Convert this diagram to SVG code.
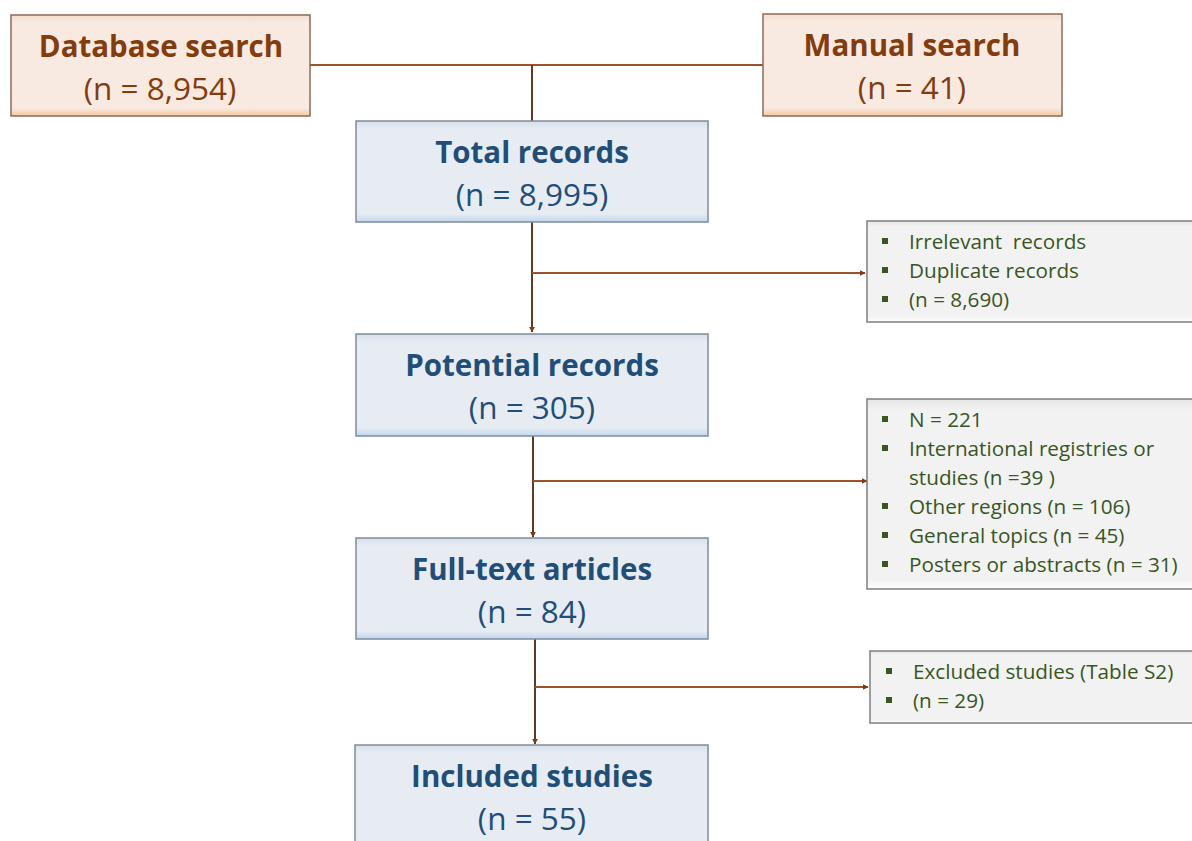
<svg xmlns="http://www.w3.org/2000/svg" width="1192" height="841" viewBox="0 0 1192 841">
<defs>
<linearGradient id="gTan" x1="0" y1="0" x2="0" y2="1">
<stop offset="0" stop-color="#F3DCCD"/>
<stop offset="0.08" stop-color="#F8EAE1"/>
<stop offset="0.92" stop-color="#F8EAE1"/>
<stop offset="1" stop-color="#F4C9A0"/>
</linearGradient>
<linearGradient id="gBlue" x1="0" y1="0" x2="0" y2="1">
<stop offset="0" stop-color="#D7DFEA"/>
<stop offset="0.08" stop-color="#E7ECF3"/>
<stop offset="0.92" stop-color="#E7ECF3"/>
<stop offset="1" stop-color="#BFD6EE"/>
</linearGradient>
<linearGradient id="gGray" x1="0" y1="0" x2="0" y2="1">
<stop offset="0" stop-color="#E6E6E6"/>
<stop offset="0.06" stop-color="#F2F2F2"/>
<stop offset="0.95" stop-color="#F2F2F2"/>
<stop offset="1" stop-color="#FFFFFF"/>
</linearGradient>
<marker id="arr" viewBox="0 0 10 10" refX="9" refY="5" markerWidth="6" markerHeight="6" markerUnits="userSpaceOnUse" orient="auto">
<path d="M0,0 L10,5 L0,10 z" fill="#7A3A1A"/>
</marker>
</defs>
<style>
.tan{fill:url(#gTan);stroke:#8C6B57;stroke-width:1.5}
.blue{fill:url(#gBlue);stroke:#7F8C9C;stroke-width:1.5}
.gray{fill:url(#gGray);stroke:#7F7F7F;stroke-width:1.5}
.tt{font-family:"Open Sans","Liberation Sans",sans-serif;font-size:29.5px;text-anchor:middle}
.nn{font-family:"Open Sans","Liberation Sans",sans-serif;font-size:31.5px;text-anchor:middle}
.b{font-weight:bold}
.brown{fill:#843C0C}
.navy{fill:#1F4E79}
.st{font-family:"Open Sans","Liberation Sans",sans-serif;font-size:20.7px;fill:#375623}
.bul{fill:#375623}
.conn{fill:none;stroke:#5E3A26;stroke-width:2}
.br{fill:none;stroke:#A0522D;stroke-width:2}
</style>
<g id="connectors">
<path class="br" d="M310,65 H763"/>
<path class="conn" d="M532,65 V121"/>
<path class="conn" d="M532,222 V332" marker-end="url(#arr)"/>
<path class="br" d="M532,273 H865" marker-end="url(#arr)"/>
<path class="conn" d="M533,436 V537" marker-end="url(#arr)"/>
<path class="br" d="M533,481 H867" marker-end="url(#arr)"/>
<path class="conn" d="M535,639 V744" marker-end="url(#arr)"/>
<path class="br" d="M535,687 H868" marker-end="url(#arr)"/>
</g>
<g id="database-search">
<rect class="tan" x="11" y="15" width="299" height="101"/>
<text class="tt b brown" x="161" y="57">Database search</text>
<text class="nn brown" x="160" y="100">(n = 8,954)</text>
</g>
<g id="manual-search">
<rect class="tan" x="763" y="14" width="299" height="102"/>
<text class="tt b brown" x="912" y="56">Manual search</text>
<text class="nn brown" x="912" y="99">(n = 41)</text>
</g>
<g id="total-records">
<rect class="blue" x="356" y="121" width="352" height="101"/>
<text class="tt b navy" x="532" y="163">Total records</text>
<text class="nn navy" x="532" y="206">(n = 8,995)</text>
</g>
<g id="potential-records">
<rect class="blue" x="356" y="334" width="352" height="102"/>
<text class="tt b navy" x="532" y="376">Potential records</text>
<text class="nn navy" x="532" y="419">(n = 305)</text>
</g>
<g id="full-text-articles">
<rect class="blue" x="356" y="538" width="352" height="101"/>
<text class="tt b navy" x="532" y="580">Full-text articles</text>
<text class="nn navy" x="532" y="623">(n = 84)</text>
</g>
<g id="included-studies">
<rect class="blue" x="355" y="745" width="353" height="110"/>
<text class="tt b navy" x="532" y="787">Included studies</text>
<text class="nn navy" x="532" y="830">(n = 55)</text>
</g>
<g id="excluded-1">
<rect class="gray" x="867" y="221" width="330" height="101"/>
<rect class="bul" x="882" y="238" width="6" height="6"/>
<rect class="bul" x="882" y="267" width="6" height="6"/>
<rect class="bul" x="882" y="296" width="6" height="6"/>
<text class="st" x="909" y="249" xml:space="preserve">Irrelevant  records</text>
<text class="st" x="909" y="278">Duplicate records</text>
<text class="st" x="909" y="307">(n = 8,690)</text>
</g>
<g id="excluded-2">
<rect class="gray" x="867" y="399" width="330" height="190"/>
<rect class="bul" x="882" y="416" width="6" height="6"/>
<rect class="bul" x="882" y="445" width="6" height="6"/>
<rect class="bul" x="882" y="503" width="6" height="6"/>
<rect class="bul" x="882" y="532" width="6" height="6"/>
<rect class="bul" x="882" y="561" width="6" height="6"/>
<text class="st" x="909" y="427">N = 221</text>
<text class="st" x="909" y="456">International registries or</text>
<text class="st" x="909" y="485">studies (n =39 )</text>
<text class="st" x="909" y="514">Other regions (n = 106)</text>
<text class="st" x="909" y="543">General topics (n = 45)</text>
<text class="st" x="909" y="572">Posters or abstracts (n = 31)</text>
</g>
<g id="excluded-3">
<rect class="gray" x="870" y="651" width="327" height="72"/>
<rect class="bul" x="886" y="668" width="6" height="6"/>
<rect class="bul" x="886" y="697" width="6" height="6"/>
<text class="st" x="913" y="679">Excluded studies (Table S2)</text>
<text class="st" x="913" y="708">(n = 29)</text>
</g>
</svg>
